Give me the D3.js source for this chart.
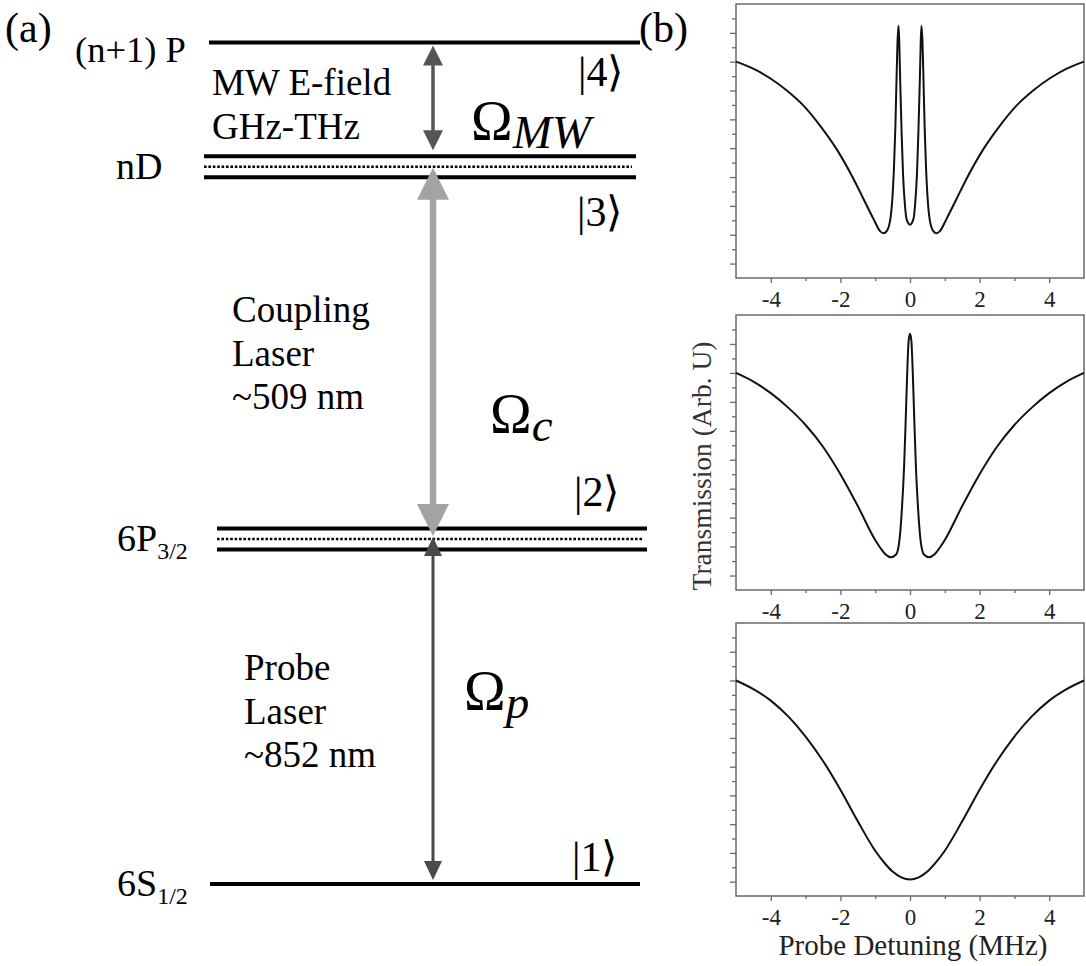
<!DOCTYPE html>
<html>
<head>
<meta charset="utf-8">
<script src="https://cdn.jsdelivr.net/npm/d3@7"></script>
<style>
  body { margin: 0; background: #fff; }
</style>
</head>
<body>
<script>
// ---- panel (a): energy levels ----
var levelNames = ["6S", "6P", "nD", "(n+1) P"];
var levelSubs = ["1/2", "3/2", "", ""];
var levelEnergy = [0, 1, 2.08, 2.44];   // schematic, not to scale
var levelDoublet = [false, true, true, false];
var kets = ["|1\u27E9", "|2\u27E9", "|3\u27E9", "|4\u27E9"];

// ---- panel (b): transmission spectra ----
var xTicks = [-4, -2, 0, 2, 4];
var xMinor = [-3, -1, 1, 3];
var yMajor = [0.1, 0.3, 0.5, 0.7, 0.9, 1.1, 1.3, 1.5, 1.7];
var yMinor = [0.2, 0.4, 0.6, 0.8, 1.0, 1.2, 1.4, 1.6, 1.8];

// detuning (MHz) and transmission (arb.)
var detTop = [-5.0, -4.49, -4.02, -3.54, -3.06, -2.58, -2.10, -1.63, -1.34, -1.05, -0.86, -0.76, -0.67, -0.57, -0.51, -0.46, -0.42, -0.39, -0.36, -0.33, -0.31, -0.28, -0.24, -0.20, -0.15, -0.10, 0,
              0.10, 0.15, 0.20, 0.24, 0.28, 0.31, 0.33, 0.36, 0.39, 0.42, 0.46, 0.51, 0.57, 0.67, 0.76, 0.86, 1.05, 1.34, 1.63, 2.10, 2.58, 3.06, 3.54, 4.02, 4.49, 5.0];
var transTop = [1.50, 1.45, 1.385, 1.30, 1.195, 1.055, 0.89, 0.69, 0.55, 0.41, 0.325, 0.31, 0.325, 0.40, 0.54, 0.77, 1.05, 1.35, 1.63, 1.75, 1.65, 1.35, 1.00, 0.72, 0.52, 0.41, 0.37,
                0.41, 0.52, 0.72, 1.00, 1.35, 1.65, 1.75, 1.63, 1.35, 1.05, 0.77, 0.54, 0.40, 0.325, 0.31, 0.325, 0.41, 0.55, 0.69, 0.89, 1.055, 1.195, 1.30, 1.385, 1.45, 1.50];

var detMid = [-5.0, -4.5, -4.0, -3.5, -3.0, -2.5, -2.0, -1.5, -1.0, -0.85, -0.7, -0.55, -0.40, -0.31, -0.23, -0.17, -0.12, -0.08, -0.04, 0,
              0.04, 0.08, 0.12, 0.17, 0.23, 0.31, 0.40, 0.55, 0.7, 0.85, 1.0, 1.5, 2.0, 2.5, 3.0, 3.5, 4.0, 4.5, 5.0];
var transMid = [1.50, 1.44, 1.36, 1.26, 1.14, 0.99, 0.80, 0.58, 0.345, 0.29, 0.245, 0.226, 0.245, 0.33, 0.57, 0.85, 1.20, 1.50, 1.72, 1.77,
                1.72, 1.50, 1.20, 0.85, 0.57, 0.33, 0.245, 0.226, 0.245, 0.29, 0.345, 0.58, 0.80, 0.99, 1.14, 1.26, 1.36, 1.44, 1.50];

var detBot = [-5.0, -4.5, -4.0, -3.5, -3.0, -2.5, -2.0, -1.5, -1.0, -0.75, -0.5, -0.25, 0,
              0.25, 0.5, 0.75, 1.0, 1.5, 2.0, 2.5, 3.0, 3.5, 4.0, 4.5, 5.0];
var transBot = [1.50, 1.44, 1.36, 1.25, 1.11, 0.94, 0.74, 0.52, 0.315, 0.235, 0.17, 0.13, 0.115,
                0.13, 0.17, 0.235, 0.315, 0.52, 0.74, 0.94, 1.11, 1.25, 1.36, 1.44, 1.50];

var FONT = "'Liberation Serif'";

function init() {
  var w = 1086, h = 966;
  var svg = d3.select("body").append("svg")
      .attr("width", w).attr("height", h)
      .style("background", "#fff");

  // ---------------- (a) ----------------
  var eScale = d3.scaleLinear().domain([0, 2.44]).range([884, 42.5]);
  var arrowX = 433;
  var split = 10.5;

  var levels = levelNames.map(function(n, i) {
    return { name: n, sub: levelSubs[i], e: levelEnergy[i], dbl: levelDoublet[i] };
  });
  var x0 = [210, 217, 204, 209], x1 = [640, 647, 636, 640];

  levels.forEach(function(d, i) {
    var y = eScale(d.e);
    if (d.dbl) {
      [-split, split].forEach(function(o) {
        svg.append("line").attr("x1", x0[i]).attr("x2", x1[i])
          .attr("y1", y + o).attr("y2", y + o)
          .attr("stroke", "#000").attr("stroke-width", 4);
      });
      svg.append("line").attr("x1", x0[i]).attr("x2", x1[i] - 4)
        .attr("y1", y).attr("y2", y)
        .attr("stroke", "#000").attr("stroke-width", 2.5)
        .attr("stroke-dasharray", "2.6,1.8");
    } else {
      svg.append("line").attr("x1", x0[i]).attr("x2", x1[i])
        .attr("y1", y).attr("y2", y)
        .attr("stroke", "#000").attr("stroke-width", 4);
    }
  });

  // level labels
  var lab = svg.append("g").attr("fill", "#000");
  function txt(x, y, size, s) {
    return lab.append("text").attr("x", x).attr("y", y).attr("font-size", size)
      .style("font-family", FONT).text(s);
  }
  var t6s = txt(117, eScale(0) + 12, 38, null);
  t6s.append("tspan").text("6S");
  t6s.append("tspan").attr("font-size", 24).attr("dy", 8).text(levelSubs[0]);
  var t6p = txt(117, eScale(1) + 12, 38, null);
  t6p.append("tspan").text("6P");
  t6p.append("tspan").attr("font-size", 24).attr("dy", 8).text(levelSubs[1]);
  txt(116, eScale(levelEnergy[2]) + 12, 38, levelNames[2]);
  txt(75, eScale(levelEnergy[3]) + 19, 36.5, levelNames[3]);

  txt(5, 42, 42, "(a)");
  txt(639, 42, 42, "(b)");

  // kets
  var ketY = [871, 506, 226, 86];
  var ketX = [572, 574, 577, 578];
  kets.forEach(function(k, i) {
    txt(ketX[i], ketY[i], 42, k);
  });

  // description texts
  function block(lines, x, y0) {
    lines.forEach(function(s, i) {
      txt(x, y0 + i * 43.5, 37, s);
    });
  }
  block(["MW E-field", "GHz-THz"], 212, 95);
  block(["Coupling", "Laser", "~509 nm"], 232, 322);
  block(["Probe", "Laser", "~852 nm"], 244, 680);

  // Rabi labels
  function omega(x, y, sub) {
    var t = txt(x, y, 56, null);
    t.append("tspan").text("\u03A9");
    t.append("tspan").attr("font-style", "italic").attr("font-size", 47).attr("dy", 8).text(sub);
  }
  omega(471, 140, "MW");
  omega(490, 433, "c");
  omega(464, 710, "p");

  // transition arrows
  function arrow(yA, yB, color, sw, hw, hl) {
    var g = svg.append("g").attr("fill", color);
    g.append("line").attr("x1", arrowX).attr("x2", arrowX)
      .attr("y1", yA + hl - 1).attr("y2", yB - hl + 1)
      .attr("stroke", color).attr("stroke-width", sw);
    g.append("path").attr("d", "M" + arrowX + "," + yA + "L" + (arrowX - hw / 2) + "," + (yA + hl) + "L" + (arrowX + hw / 2) + "," + (yA + hl) + "Z");
    g.append("path").attr("d", "M" + arrowX + "," + yB + "L" + (arrowX - hw / 2) + "," + (yB - hl) + "L" + (arrowX + hw / 2) + "," + (yB - hl) + "Z");
  }
  arrow(eScale(levelEnergy[3]) + 3, eScale(levelEnergy[2]) - split - 6, "#555", 3.5, 20, 20);
  arrow(eScale(levelEnergy[2]) + 1, eScale(1) - 3, "#a3a3a3", 6.5, 32, 32);
  arrow(eScale(1) - 2, eScale(0) - 4, "#4a4a4a", 3, 18, 19);

  // ---------------- (b) ----------------
  var panels = [
    { det: detTop, tr: transTop, top: 4, bottom: 278 },
    { det: detMid, tr: transMid, top: 315, bottom: 590 },
    { det: detBot, tr: transBot, top: 623, bottom: 896 }
  ];
  var xScale = d3.scaleLinear().domain([-5, 5]).range([736, 1084]);

  panels.forEach(function(p) {
    var yScale = d3.scaleLinear().domain([0, 1.9]).range([p.bottom, p.top]);
    var g = svg.append("g");

    g.append("rect").attr("x", 736).attr("y", p.top)
      .attr("width", 1084 - 736).attr("height", p.bottom - p.top)
      .attr("fill", "none").attr("stroke", "#6a6a6a").attr("stroke-width", 1.5);

    var xAxis = d3.axisBottom(xScale).tickValues(xTicks).tickSize(5).tickPadding(8)
      .tickFormat(function(d) { return d < 0 ? "-" + Math.abs(d) : String(d); });
    var xAxisMinor = d3.axisBottom(xScale).tickValues(xMinor).tickSize(3).tickFormat("");
    var yAxis = d3.axisLeft(yScale).tickValues(yMajor).tickSize(6).tickFormat("");
    var yAxisMinor = d3.axisLeft(yScale).tickValues(yMinor).tickSize(4).tickFormat("");

    [xAxis, xAxisMinor].forEach(function(ax) {
      var a = g.append("g").attr("transform", "translate(0," + p.bottom + ")").call(ax);
      a.select(".domain").remove();
      a.selectAll("line").attr("stroke", "#6a6a6a").attr("stroke-width", 1.3);
      a.selectAll("text").attr("font-size", 23).attr("fill", "#222")
        .style("font-family", FONT);
    });
    [yAxis, yAxisMinor].forEach(function(ax) {
      var a = g.append("g").attr("transform", "translate(736,0)").call(ax);
      a.select(".domain").remove();
      a.selectAll("line").attr("stroke", "#6a6a6a").attr("stroke-width", 1.3);
    });

    var pts = p.det.map(function(d, i) { return [d, p.tr[i]]; });
    var line = d3.line()
      .x(function(d) { return xScale(d[0]); })
      .y(function(d) { return yScale(d[1]); })
      .curve(d3.curveMonotoneX);
    g.append("path").datum(pts).attr("d", line)
      .attr("fill", "none").attr("stroke", "#111").attr("stroke-width", 2);
  });

  svg.append("text").attr("transform", "translate(711,466) rotate(-90)")
    .attr("text-anchor", "middle").attr("font-size", 27.5).attr("fill", "#333")
    .style("font-family", FONT)
    .text("Transmission (Arb. U)");
  svg.append("text").attr("x", 913).attr("y", 955)
    .attr("text-anchor", "middle").attr("font-size", 29).attr("fill", "#222")
    .style("font-family", FONT)
    .text("Probe Detuning (MHz)");
}
window.onload = init;
</script>
</body>
</html>
